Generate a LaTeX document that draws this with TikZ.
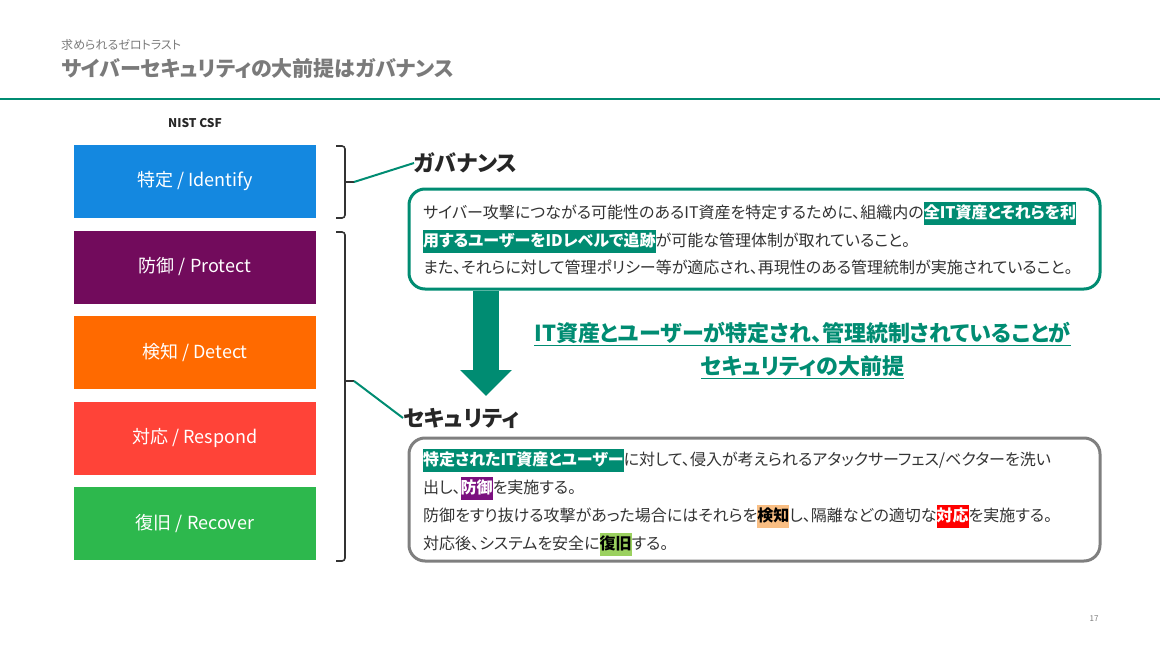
\documentclass[tikz,border=0pt]{standalone}
\usepackage{fontspec}
\setmainfont{Noto Sans CJK JP}[RawFeature=+palt]
\usetikzlibrary{arrows.meta,positioning}

\definecolor{hpegreen}{HTML}{008C72}
\definecolor{titlegray}{HTML}{7A7A7A}
\definecolor{inkgray}{HTML}{333333}
\definecolor{panelgray}{HTML}{7F7F7F}
\definecolor{markpurple}{HTML}{7B0F7F}
\definecolor{markorange}{HTML}{F9BE83}
\definecolor{markred}{HTML}{FF0000}
\definecolor{markgreen}{HTML}{9BD15F}

\setlength{\fboxsep}{0pt}
\newcommand{\markrun}[3]{\colorbox{#1}{\rule[-6.5pt]{0pt}{23pt}\textcolor{#2}{\bfseries #3}}}

\begin{document}
\begin{tikzpicture}[x=1pt,y=-1pt,node distance=85.5pt,on grid,
    every node/.style={inner sep=0pt},
    csfbox/.style={minimum width=242pt,minimum height=73pt,text=white,font=\fontsize{18}{20}\selectfont},
    panel/.style={draw,line width=3pt,rounded corners=16pt,minimum width=691pt},
    bodyline/.style={anchor=base west,text=inkgray,font=\fontsize{16}{18}\selectfont},
    heading/.style={anchor=west,text=black!85,font=\fontsize{22}{24}\selectfont\bfseries},
    slogan/.style={text=hpegreen,font=\fontsize{22}{24}\selectfont\bfseries},
    bracket/.style={line width=1.6pt,draw=black!80,rounded corners=3pt},
    leader/.style={line width=2pt,draw=hpegreen}]
  \useasboundingbox (0,0) rectangle (1160,653);

  % header
  \node[anchor=west,text=titlegray,font=\fontsize{12}{14}\selectfont] (subtitle) at (61,45) {求められるゼロトラスト};
  \node[anchor=west,text=titlegray,font=\fontsize{21}{24}\selectfont\bfseries] (title) at (61,68) {サイバーセキュリティの大前提はガバナンス};
  \coordinate (rule_l) at (0,99);
  \coordinate (rule_r) at (1160,99);
  \draw[line width=2pt,hpegreen] (rule_l) -- (rule_r);
  \node[font=\fontsize{12}{14}\selectfont\bfseries,text=black!85] (nist) at (195,123) {NIST CSF};

  % left column
  \node[csfbox,fill={rgb,255:red,20;green,136;blue,224}] (c_id) at (195,181.5) {特定 / Identify};
  \node[csfbox,fill={rgb,255:red,114;green,11;blue,92}] (c_pr) [below of=c_id] {防御 / Protect};
  \node[csfbox,fill={rgb,255:red,255;green,106;blue,0}] (c_de) [below of=c_pr] {検知 / Detect};
  \node[csfbox,fill={rgb,255:red,255;green,67;blue,56}] (c_rs) [below of=c_de] {対応 / Respond};
  \node[csfbox,fill={rgb,255:red,45;green,184;blue,77}] (c_rc) [below of=c_rs] {復旧 / Recover};

  % brackets
  \coordinate (b1_a) at (336,146);
  \coordinate (b1_b) at (336,218);
  \coordinate (b1_m) at (345,182);
  \coordinate (b1_t) at (354,182);
  \coordinate (b2_a) at (336,232);
  \coordinate (b2_b) at (336,561);
  \coordinate (b2_m) at (345,381);
  \coordinate (b2_t) at (354,381);
  \draw[bracket] (b1_a) -| (b1_m) |- (b1_b);
  \draw[bracket] (b2_a) -| (b2_m) |- (b2_b);
  \draw[line width=1.6pt,black!80] (b1_m) -- (b1_t);
  \draw[line width=1.6pt,black!80] (b2_m) -- (b2_t);

  % governance
  \node[heading] (h_gov) at (414,163) {ガバナンス};
  \node[panel,draw=hpegreen,minimum height=100pt] (p_gov) at (754.5,239) {};
  \node[bodyline] (g_1) at (423,218) {サイバー攻撃につながる可能性のあるIT資産を特定するために、組織内の\markrun{hpegreen}{white}{全IT資産とそれらを利}};
  \node[bodyline] (g_2) at (423,246) {\markrun{hpegreen}{white}{用するユーザーをIDレベルで追跡}が可能な管理体制が取れていること。};
  \node[bodyline] (g_3) at (423,273) {また、それらに対して管理ポリシー等が適応され、再現性のある管理統制が実施されていること。};

  % arrow and message
  \coordinate (a_end) at (486,396);
  \draw[-{Triangle[length=26pt,width=50pt]},line width=26pt,hpegreen] (p_gov.south -| a_end) -- (a_end);
  \node[slogan] (m_1) at (802.5,334) {\underline{IT資産とユーザーが特定され、管理統制されていることが}};
  \node[slogan] (m_2) at (802.5,367) {\underline{セキュリティの大前提}};

  % security
  \node[heading] (h_sec) at (403,418) {セキュリティ};
  \node[panel,draw=panelgray,minimum height=123pt] (p_sec) at (754.5,499.5) {};
  \node[bodyline] (s_1) at (423,465) {\markrun{hpegreen}{white}{特定されたIT資産とユーザー}に対して、侵入が考えられるアタックサーフェス/ベクターを洗い};
  \node[bodyline] (s_2) at (423,493) {出し、\markrun{markpurple}{white}{防御}を実施する。};
  \node[bodyline] (s_3) at (423,521) {防御をすり抜ける攻撃があった場合にはそれらを\markrun{markorange}{black}{検知}し、隔離などの適切な\markrun{markred}{white}{対応}を実施する。};
  \node[bodyline] (s_4) at (423,549) {対応後、システムを安全に\markrun{markgreen}{black}{復旧}する。};

  \path[leader]
    (b1_t) edge (h_gov.west)
    (b2_t) edge (h_sec.west);

  \node[text=titlegray,font=\fontsize{8}{10}\selectfont] (page) at (1094,619) {17};
\end{tikzpicture}
\end{document}
